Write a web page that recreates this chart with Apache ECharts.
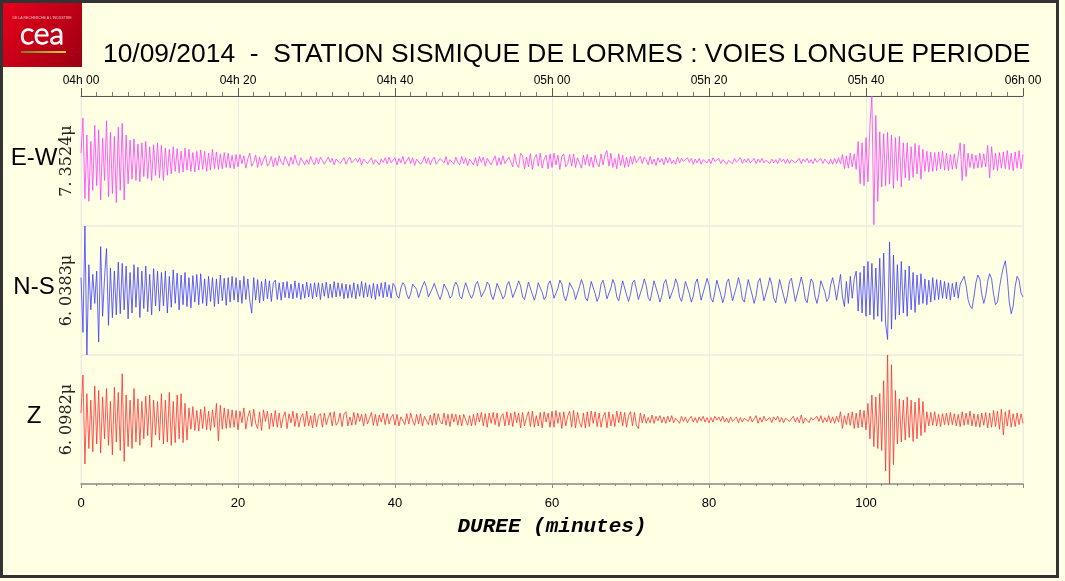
<!DOCTYPE html>
<html><head><meta charset="utf-8">
<script src="https://cdn.jsdelivr.net/npm/echarts@6/dist/echarts.min.js"></script>
<style>html,body{margin:0;padding:0;background:#ffffe4;}#c{width:1065px;height:581px;}</style>
</head><body><div id="c"></div>
<script>
// ---- data (amplitudes in % of each trace's full scale, sampled every 0.25 min) ----
const SAMPLE_STEP = 0.25; // minutes
const channels = ['E-W', 'N-S', 'Z'];
const scaleLabels = ['7. 3524\u03bc', '6. 0383\u03bc', '6. 0982\u03bc'];
const topTickLabels = ['04h 00', '04h 20', '04h 40', '05h 00', '05h 20', '05h 40', '06h 00'];
const bottomTickLabels = ['0', '20', '40', '60', '80', '100', ''];

const ewValues = [
12,66,-58,40,-62,30,-45,55,-38,48,-60,35,-30,62,-55,44,-50,38,-64,52,
-45,58,-60,40,-35,32,-28,34,-30,26,-32,28,-24,30,-27,22,-30,25,-22,28,
-26,24,-30,20,-22,18,-20,22,-16,19,-18,15,-17,20,-14,18,-16,13,-17,15,
-14,17,-13,15,-16,12,-14,18,-12,14,-13,11,-12,13,-10,12,-11,9,-12,10,
-9,10,-4,8,-11,3,12,-8,-2,9,-10,6,-7,2,9,-8,-3,7,-9,5,
-7,8,-2,-6,7,4,-8,6,-5,9,-3,-7,5,8,-6,2,-5,7,-1,-6,
5,-4,6,1,-5,-3,6,-2,4,-6,3,5,-4,-1,5,-5,2,6,-3,-5,
4,-2,5,-6,3,6,-4,-1,5,-5,2,4,-6,3,-2,5,-4,6,-3,-1,
5,-6,4,-3,7,-5,-2,6,-4,5,-7,3,6,-5,-1,7,-4,5,-6,2,
6,-5,-7,4,6,-3,7,-6,2,5,-5,6,-2,-6,7,-4,5,-7,3,6,
-6,5,-8,7,-2,6,-8,4,7,-6,-3,8,-7,5,-6,8,-4,-7,6,7,
-9,11,-5,-10,12,8,-12,6,-9,11,-13,4,10,-8,12,-11,3,9,-12,11,
-10,12,-6,9,-13,7,11,-9,-4,10,-8,11,-10,5,8,-11,9,-6,10,-8,
6,-10,9,-4,-9,11,-6,10,16,-8,12,-10,4,-12,11,-7,9,-10,6,-9,
7,-5,8,-3,-6,7,-4,6,2,-6,7,-5,3,-7,5,-2,4,-6,6,-3,
5,-4,1,-5,6,-3,4,-1,-4,5,-2,4,-5,3,-3,4,-5,2,4,-3,
3,-4,5,-1,-3,4,-4,2,4,-5,1,3,-4,4,-2,-3,5,-4,3,-2,
4,-3,-1,4,-4,3,-2,4,-3,1,4,-4,3,-3,2,-4,4,-1,3,-4,
3,-4,2,5,-3,-2,4,-4,3,-1,4,-3,2,-4,4,-2,-3,4,-4,3,
4,-5,3,-5,4,-4,5,-4,10,-12,8,-11,12,-9,11,-13,30,-35,28,-38,
36,-32,55,100,-98,70,-62,45,-40,42,-38,44,-35,40,-42,36,-30,38,-40,28,
-26,28,-30,22,-25,27,-20,24,-28,18,-16,15,-17,14,-16,13,-15,14,-12,15,
-14,12,-15,10,-13,11,-12,9,28,-30,26,-24,12,-10,11,-12,9,-11,12,-10,
11,-9,24,-26,22,-14,12,-15,13,-11,14,-12,16,-13,12,-15,14,-11,16,-12,
10];

const nsValues = [
20,-65,100,-100,40,-30,25,-20,30,-80,68,-40,20,65,-54,35,-42,30,-38,44,
-36,42,-30,38,-44,28,-35,40,-26,36,-42,30,-28,38,-33,25,-38,34,-24,30,
-32,28,-24,30,-35,22,-26,32,-20,27,-30,24,-22,28,-25,20,-27,23,-18,25,
-22,26,-20,18,-24,22,-17,20,-25,18,-21,24,-16,19,-23,20,-18,22,-15,20,
-18,16,-20,22,-14,18,-16,-35,20,-15,17,-19,14,-16,18,-13,15,-17,12,16,
-14,12,-15,13,-11,14,-12,10,-13,15,-11,12,-14,10,-12,13,-10,11,-13,12,
-10,12,-14,11,-9,13,-12,10,-11,14,-10,12,-9,11,-13,10,-12,9,-11,12,
-13,10,-9,14,-11,12,-10,9,-12,11,-14,10,-9,12,-11,13,-10,9,-12,11,
6,-8,-12,4,12,8,-6,-13,-5,10,13,2,-11,-9,7,14,5,-10,-12,3,
11,9,-7,-14,-4,10,12,-2,-12,-8,6,13,7,-9,-13,1,12,10,-6,-12,
-5,9,14,4,-10,-13,2,13,9,-7,-14,-3,11,12,-4,-13,-8,8,14,3,
-11,-12,5,15,7,-10,-14,-1,13,11,-6,-15,-4,12,13,-3,-14,-9,9,15,
4,-12,-14,3,16,10,-8,-16,-5,12,15,0,-14,-12,6,17,8,-11,-16,-2,
14,13,-5,-17,-9,10,16,3,-13,-15,4,17,9,-10,-16,-1,15,12,-7,-17,
-6,12,16,2,-14,-13,5,18,8,-11,-16,-1,15,13,-6,-18,-8,11,17,3,
-13,-15,4,18,10,-10,-17,-3,14,15,-5,-18,-9,11,18,2,-15,-13,7,19,
9,-12,-18,-2,16,14,-6,-19,-8,12,18,1,-16,-14,6,20,8,-13,-18,0,
17,14,-7,-20,-8,13,19,2,-16,-15,6,20,9,-12,-19,-1,17,14,-8,-20,
-7,14,19,1,-17,-14,7,21,8,-13,-19,0,18,13,-9,-20,-6,15,18,-2,
-17,-12,9,20,5,-15,-18,25,-10,-25,14,-20,22,-12,18,30,-32,28,-35,38,
-40,45,-38,42,-45,35,-40,50,-48,58,-52,-76,75,-60,55,-45,40,-38,45,-35,
32,-40,38,-30,28,-34,24,-22,26,-20,18,-22,16,-18,20,-15,17,-14,16,-12,
14,-13,12,-15,11,-10,13,-12,10,16,22,8,-14,-24,-28,-10,12,24,18,-6,
-20,-8,14,26,18,-6,-22,-18,4,22,36,46,20,-18,-36,-24,6,22,16,-4,
-10];

const zValues = [
10,69,-69,40,-45,30,-50,52,-38,45,-52,35,-30,48,-40,28,-55,50,-35,42,
-48,71,-65,38,-42,30,-45,48,-35,32,-40,28,-30,36,-25,38,-43,30,-24,28,
-32,40,-38,30,-35,42,-40,28,-36,38,-30,40,-36,25,-32,18,-15,20,-17,14,
-18,16,-14,20,-16,13,-17,15,-12,25,-33,22,-15,18,-14,16,-13,15,-12,14,
-16,13,-5,18,-15,4,14,-11,16,-6,-14,12,-17,15,-3,13,-15,10,-11,14,
-12,10,-13,4,12,-14,9,-5,13,-11,10,-12,3,9,-11,13,-10,6,-13,10,
-11,5,9,-12,10,-8,3,11,-10,12,-9,-4,10,-11,8,12,-10,4,-9,11,
-8,10,-3,8,-10,9,-7,2,11,-9,8,-10,7,-4,10,-8,9,-7,3,8,
-9,8,-10,4,7,-8,9,-7,10,-2,-9,8,-7,9,-10,5,8,-8,7,-9,
10,-8,9,-3,-7,10,-9,8,-11,9,-4,8,-9,7,-10,8,11,-9,6,-10,
8,-9,10,-4,11,-10,9,-12,10,-6,11,-8,10,-11,4,9,-10,12,-9,10,
-11,12,-5,10,-13,11,-10,3,12,-11,13,-12,6,-10,11,-13,12,-4,10,-12,
13,-12,14,-6,11,-14,12,-10,5,13,-12,14,-13,11,-4,-12,10,-13,12,-11,
13,-6,12,-11,10,-12,4,11,-13,12,-10,8,-11,13,-5,12,-10,11,-12,6,
12,-10,11,-9,-14,10,-5,8,-6,3,-5,7,-6,5,-2,6,-5,4,-6,5,
-4,6,-5,2,4,-6,5,-3,4,-5,1,5,-4,3,-5,4,-2,5,-4,3,
-5,3,-4,5,-1,4,-3,5,-4,2,-5,4,-3,-1,4,-5,3,-4,2,4,
-3,5,-4,1,6,-6,3,-4,5,-2,-4,3,-5,4,-1,5,-4,3,-5,2,
4,-3,-2,5,-4,3,-5,7,-6,2,4,-5,3,-1,-4,5,-3,6,-5,3,
-4,6,-5,4,-6,5,-4,12,-14,6,-8,10,-9,12,-14,10,-13,15,-12,14,
-16,25,-30,38,-42,35,-45,40,-48,60,-80,100,-100,85,-70,45,-38,32,-35,30,
-32,35,-28,30,-34,27,-30,33,-25,28,-20,12,-10,11,-9,12,-10,8,-11,9,
-8,10,-9,11,-8,9,-10,8,-11,12,-9,10,-8,13,-10,9,-11,8,-12,10,
-9,11,-13,10,-12,14,-11,13,-15,16,-24,12,-10,15,-12,9,-11,10,-8,9,
-6];

const traces = [ewValues, nsValues, zValues];
const traceColors = ['#ff3cff', '#3c3cff', '#ff3030'];

// ---- layout ----
const PLOT_LEFT = 81, PLOT_W = 942;
const gridTops = [96, 226, 355];
const gridH = [130, 129, 129];

const chart = echarts.init(document.getElementById('c'), null, {renderer: 'canvas'});

const grids = gridTops.map((t, i) => ({
  left: PLOT_LEFT, top: t, width: PLOT_W, height: gridH[i],
  show: true, borderColor: '#ecece0', borderWidth: 1, backgroundColor: 'transparent'
}));

const xAxes = [0, 1, 2].map(i => {
  const base = {
    type: 'value', gridIndex: i, min: 0, max: 120, interval: 20,
    splitLine: {show: true, lineStyle: {color: '#ecece0', width: 1}},
    axisLine: {show: false}, axisTick: {show: false}, axisLabel: {show: false},
    minorTick: {show: false}
  };
  if (i === 0) {
    Object.assign(base, {
      position: 'top',
      axisLine: {show: true, onZero: false, lineStyle: {color: '#555', width: 1}},
      axisTick: {show: true, length: 8, lineStyle: {color: '#555'}},
      minorTick: {show: true, splitNumber: 10, length: 4, lineStyle: {color: '#777'}},
      axisLabel: {show: true, margin: 9, fontSize: 12, color: '#000', fontFamily: 'Liberation Sans',
        formatter: v => topTickLabels[Math.round(v / 20)]}
    });
  }
  if (i === 2) {
    Object.assign(base, {
      position: 'bottom',
      axisLine: {show: true, onZero: false, lineStyle: {color: '#8a8a8a', width: 1.5}},
      axisTick: {show: true, length: 4, lineStyle: {color: '#8a8a8a'}},
      minorTick: {show: true, splitNumber: 10, length: 2, lineStyle: {color: '#8a8a8a'}},
      axisLabel: {show: true, margin: 13, fontSize: 13, color: '#000', fontFamily: 'Liberation Sans',
        formatter: v => bottomTickLabels[Math.round(v / 20)]},
      name: 'DUREE (minutes)', nameLocation: 'middle', nameGap: 32,
      nameTextStyle: {fontFamily: 'Liberation Mono', fontWeight: 'bold', fontStyle: 'italic', fontSize: 21, color: '#000'}
    });
  }
  return base;
});

const yAxes = [0, 1, 2].map(i => ({type: 'value', gridIndex: i, min: -100, max: 100, show: false}));

const series = traces.map((vals, i) => ({
  type: 'line', xAxisIndex: i, yAxisIndex: i, showSymbol: false, symbol: 'none',
  sampling: 'none', animation: false, silent: true,
  lineStyle: {color: traceColors[i], width: 0.8},
  data: vals.map((v, k) => [k * SAMPLE_STEP, v])
}));

const centers = gridTops.map((t, i) => t + gridH[i] / 2);
const graphics = [
  {type: 'rect', shape: {x: 1.5, y: 1.5, width: 1056, height: 575}, style: {fill: '#ffffe4', stroke: '#333', lineWidth: 3}, z: -10},
  {type: 'rect', shape: {x: 3, y: 3, width: 79, height: 64},
    style: {fill: new echarts.graphic.LinearGradient(0, 0, 1, 1, [{offset: 0, color: '#e8001c'}, {offset: 1, color: '#9c0012'}])}},
  {type: 'text', x: 42, y: 18, style: {text: "DE LA RECHERCHE \u00c0 L'INDUSTRIE", fill: '#f3c0c0', fontSize: 3.5, align: 'center', verticalAlign: 'middle', fontFamily: 'Liberation Sans'}},
  {type: 'text', x: 42, y: 34, style: {text: 'cea', fill: 'none', stroke: '#fff', lineWidth: 1.3, fontSize: 30, fontFamily: 'Lato', fontWeight: 300, align: 'center', verticalAlign: 'middle'}},
  {type: 'rect', shape: {x: 21, y: 51, width: 45, height: 2},
    style: {fill: new echarts.graphic.LinearGradient(0, 0, 1, 0, [{offset: 0, color: '#7d7a2a'}, {offset: 1, color: '#d8cc3c'}])}},
  {type: 'text', x: 103, y: 55, style: {text: '10/09/2014  -  STATION SISMIQUE DE LORMES : VOIES LONGUE PERIODE', fill: '#000', fontSize: 26.4, fontFamily: 'Liberation Sans', verticalAlign: 'middle'}}
];
channels.forEach((c, i) => {
  graphics.push({type: 'text', x: 34, y: centers[i] - 3, style: {text: c, fill: '#000', fontSize: 24, fontFamily: 'Liberation Sans', align: 'center', verticalAlign: 'middle'}});
  graphics.push({type: 'text', x: 67, y: centers[i], rotation: Math.PI / 2, style: {text: scaleLabels[i], fill: '#222', fontSize: 16, fontFamily: 'DejaVu Serif', align: 'center', verticalAlign: 'middle'}});
});

chart.setOption({
  backgroundColor: '#ffffe4',
  animation: false,
  grid: grids, xAxis: xAxes, yAxis: yAxes, series: series,
  graphic: {elements: graphics}
});
</script>
</body></html>
